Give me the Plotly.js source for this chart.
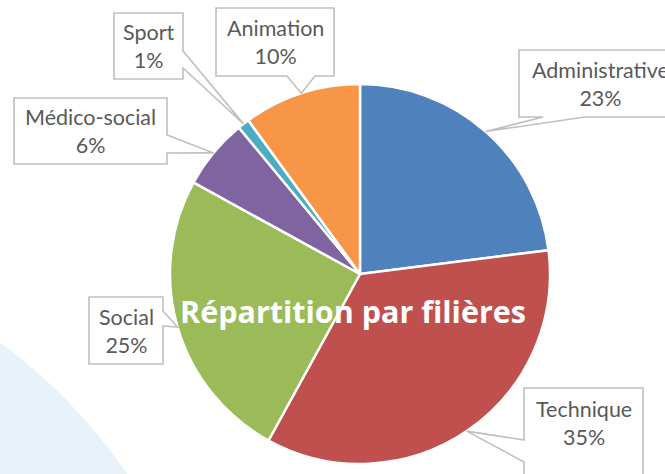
<!DOCTYPE html>
<html><head><meta charset="utf-8">
<script src="https://cdn.plot.ly/plotly-3.0.1.min.js"></script>
<style>html,body{margin:0;padding:0;background:#fff}#chart{width:665px;height:474px}
text{font-variant-ligatures:none;}</style>
</head><body><div id="chart"></div>
<script>
// ---- data ----
const categories = ['Administrative', 'Technique', 'Social', 'Médico-social', 'Sport', 'Animation'];
const values = [23, 35, 25, 6, 1, 10];
const sliceColors = ['#4F81BD', '#C0504D', '#9BBB59', '#8064A2', '#4BACC6', '#F79646'];
const chartTitle = 'Répartition par filières';

// ---- layout constants (pixels) ----
const W = 665, H = 474;
const cx = 360, cy = 274, R = 190;
// callout boxes: [x0,y0,x1,y1], side of pointer, pointer base range
const callouts = {
  'Administrative': {box: [519, 50, 682, 117], side: 'bottom', base: [543, 585]},
  'Technique':      {box: [524, 388, 643, 482], side: 'left',   base: [440, 462]},
  'Social':         {box: [89, 297, 163, 364],  side: 'right',  base: [311, 326]},
  'Médico-social':  {box: [14, 98, 167, 164],   side: 'right',  base: [135, 153]},
  'Sport':          {box: [114, 13, 183, 79],   side: 'right',  base: [51, 68]},
  'Animation':      {box: [216, 8, 334, 76],    side: 'bottom', base: [287, 315]}
};

const px = x => x / W;
const py = y => 1 - y / H;

const total = values.reduce((a, b) => a + b, 0);
let cum = 0;
const shapes = [];
const annotations = [];

// background arc
shapes.push({
  type: 'circle', xref: 'paper', yref: 'paper', layer: 'below',
  x0: px(-320 - 542), x1: px(-320 + 542), y0: py(780 + 542), y1: py(780 - 542),
  fillcolor: '#E9F2F8', line: {width: 0}
});

categories.forEach((cat, i) => {
  const v = values[i];
  const theta = 2 * Math.PI * (cum + v / 2) / total;
  cum += v;
  const tx = cx + R * Math.sin(theta);
  const ty = cy - R * Math.cos(theta);
  const c = callouts[cat];
  const [x0, y0, x1, y1] = c.box;
  const [b0, b1] = c.base;
  let pts;
  if (c.side === 'bottom') {
    pts = [[x0, y0], [x1, y0], [x1, y1], [b1, y1], [tx, ty], [b0, y1], [x0, y1]];
  } else if (c.side === 'right') {
    pts = [[x0, y0], [x1, y0], [x1, b0], [tx, ty], [x1, b1], [x1, y1], [x0, y1]];
  } else {
    pts = [[x0, y0], [x1, y0], [x1, y1], [x0, y1], [x0, b1], [tx, ty], [x0, b0]];
  }
  const path = 'M' + pts.map(p => px(p[0]).toFixed(5) + ',' + py(p[1]).toFixed(5)).join(' L') + ' Z';
  shapes.push({
    type: 'path', xref: 'paper', yref: 'paper', layer: 'above', path: path,
    fillcolor: '#FFFFFF', line: {color: '#BFBFBF', width: 1.6}
  });
  const pct = Math.round(v / total * 100) + '%';
  annotations.push({
    xref: 'paper', yref: 'paper',
    x: px((x0 + x1) / 2), y: py((y0 + y1) / 2 - (cat === 'Technique' ? 12 : 0)),
    xanchor: 'center', yanchor: 'middle', showarrow: false,
    text: cat + '<br>' + pct,
    font: {family: 'Lato, "Open Sans", sans-serif', size: 21.5, color: '#595959'}
  });
});

const trace = {
  type: 'pie',
  labels: categories,
  values: values,
  sort: false,
  direction: 'clockwise',
  rotation: 0,
  marker: {colors: sliceColors, line: {color: '#FFFFFF', width: 2.5}},
  textinfo: 'none',
  hoverinfo: 'skip',
  showlegend: false,
  domain: {x: [px(cx - R), px(cx + R)], y: [py(cy + R), py(cy - R)]}
};

const layout = {
  width: W, height: H,
  margin: {l: 0, r: 0, t: 0, b: 0},
  paper_bgcolor: '#FFFFFF',
  showlegend: false,
  title: {
    text: '<b>' + chartTitle + '</b>',
    xref: 'paper', yref: 'paper', x: px(353), y: py(312),
    xanchor: 'center', yanchor: 'middle',
    font: {family: '"Open Sans", Lato, sans-serif', size: 30.5, color: '#FFFFFF'}
  },
  shapes: shapes,
  annotations: annotations
};

Plotly.newPlot('chart', [trace], layout, {displayModeBar: false, staticPlot: true});
</script>
</body></html>
